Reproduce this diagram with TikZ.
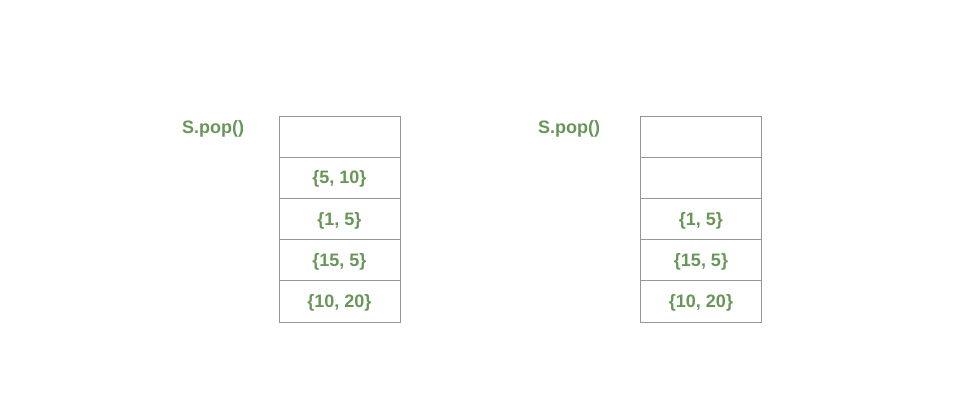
\documentclass[tikz,border=0pt]{standalone}
\usepackage{fontspec}
\setmainfont{Liberation Sans}
\definecolor{txtgreen}{RGB}{104,150,88}
\definecolor{linegray}{RGB}{150,150,150}
\tikzset{
  cell/.style={draw=linegray, line width=1pt, minimum width=121pt, minimum height=41.2pt, inner sep=0pt, anchor=north west, font=\fontsize{18}{20}\selectfont\bfseries, text=txtgreen, text depth=1pt},
  lbl/.style={font=\fontsize{18}{20}\selectfont\bfseries, text=txtgreen, inner sep=0pt}
}
\begin{document}
\begin{tikzpicture}[x=1pt,y=-1pt]
\useasboundingbox (0,0) rectangle (959,400);
% left stack
\node[cell] (l1) at (278.5,115.5) {};
\node[cell] (l2) at (278.5,156.7) {\{5, 10\}};
\node[cell] (l3) at (278.5,197.9) {\{1, 5\}};
\node[cell] (l4) at (278.5,239.1) {\{15, 5\}};
\node[cell] (l5) at (278.5,280.3) {\{10, 20\}};
\node[lbl] (s1) at (213,128.5) {S.pop()};
% right stack
\node[cell] (r1) at (640,115.5) {};
\node[cell] (r2) at (640,156.7) {};
\node[cell] (r3) at (640,197.9) {\{1, 5\}};
\node[cell] (r4) at (640,239.1) {\{15, 5\}};
\node[cell] (r5) at (640,280.3) {\{10, 20\}};
\node[lbl] (s2) at (569,128.5) {S.pop()};
\end{tikzpicture}
\end{document}
